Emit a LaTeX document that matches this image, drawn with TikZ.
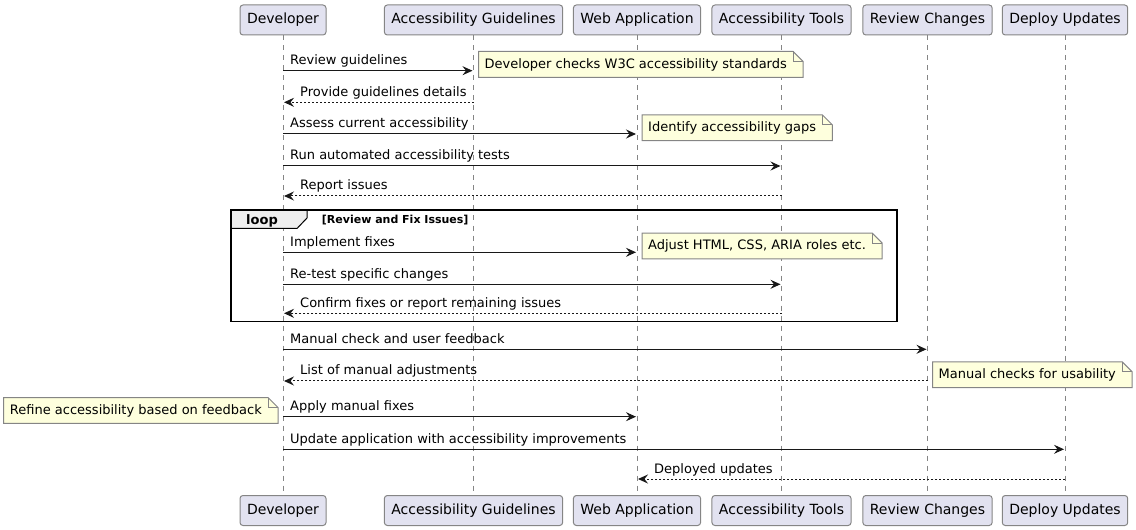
\documentclass[tikz,border=0pt]{standalone}
\usepackage{fontspec}
\setmainfont{DejaVu Sans}
\usetikzlibrary{arrows.meta,calc}
\pgfdeclarelayer{back}
\pgfdeclarelayer{mid}
\pgfsetlayers{back,mid,main}
\definecolor{partfill}{HTML}{E2E2F0}
\definecolor{ink}{HTML}{181818}
\definecolor{edge}{HTML}{858585}
\definecolor{notefill}{HTML}{FEFFDD}
\definecolor{tabfill}{HTML}{EEEEEE}

\newcommand\fwdmsg[5]{%
  \draw[msg] (#1 |- 0,#3) -- ([xshift=-1bp]#2 |- 0,#3);
  \node[lbl] (#4) at ($(#1 |- 0,#3)+(7,-6)$) {#5};}
\newcommand\bwdmsg[5]{%
  \draw[ret] (#1 |- 0,#3) -- ([xshift=1bp]#2 |- 0,#3);
  \node[lbl] (#4) at ($(#2 |- 0,#3)+(17,-6)$) {#5};}
\newcommand\notebody[1]{%
  \begin{pgfonlayer}{mid}
  \draw[noteshape] ([xshift=-6bp]#1.north west) -- ([xshift=6bp]#1.north east)
     -- ([xshift=16bp,yshift=-10bp]#1.north east) -- ([xshift=16bp]#1.south east)
     -- ([xshift=-6bp]#1.south west) -- cycle;
  \draw[noteshape,fill=none] ([xshift=6bp]#1.north east) -- ([xshift=6bp,yshift=-10bp]#1.north east)
     -- ([xshift=16bp,yshift=-10bp]#1.north east);
  \end{pgfonlayer}}
\newcommand\noteright[4]{%
  \node[notetext,anchor=west] (#1) at ($(#2 |- 0,#3)+(11,-6.25)$) {#4};
  \notebody{#1}}
\newcommand\noteleft[4]{%
  \node[notetext,anchor=east] (#1) at ($(#2 |- 0,#3)+(-21,-6.25)$) {#4};
  \notebody{#1}}

\begin{document}
\begin{tikzpicture}[x=1bp,y=-1bp,
  part/.style={draw=edge, line width=1bp, fill=partfill, rounded corners=3bp,
    minimum height=30bp, inner xsep=7bp, inner ysep=0pt,
    font=\fontsize{14bp}{16bp}\selectfont, text=black},
  life/.style={draw=edge, line width=1bp, dash pattern=on 5bp off 5bp},
  msg/.style={draw=ink, line width=1bp, -{Stealth[length=10bp,width=9bp,inset=3.5bp]}},
  ret/.style={msg, dash pattern=on 2bp off 2bp},
  lbl/.style={font=\fontsize{13bp}{15bp}\selectfont, inner sep=0pt, anchor=base west, text=black},
  notetext/.style={font=\fontsize{13bp}{15bp}\selectfont, inner xsep=0pt, inner ysep=0pt,
    minimum height=25.5bp, text=black},
  noteshape/.style={draw=edge, line width=1bp, fill=notefill},
]
\useasboundingbox (0,0) rectangle (1136,530);

% participants (top)
\node[part] (devT)    at (283,20)   {Developer};
\node[part] (guideT)  at (473.5,20) {Accessibility Guidelines};
\node[part] (webT)    at (637,20)   {Web Application};
\node[part] (toolsT)  at (781.5,20) {Accessibility Tools};
\node[part] (revT)    at (927.5,20) {Review Changes};
\node[part] (depT)    at (1065,20)  {Deploy Updates};
% participants (bottom)
\node[part] (devB)    at (283,510.5)   {Developer};
\node[part] (guideB)  at (473.5,510.5) {Accessibility Guidelines};
\node[part] (webB)    at (637,510.5)   {Web Application};
\node[part] (toolsB)  at (781.5,510.5) {Accessibility Tools};
\node[part] (revB)    at (927.5,510.5) {Review Changes};
\node[part] (depB)    at (1065,510.5)  {Deploy Updates};

% lifelines
\begin{pgfonlayer}{back}
\draw[life] (devT.south) -- (devB.north);
\draw[life] (guideT.south) -- (guideB.north);
\draw[life] (webT.south) -- (webB.north);
\draw[life] (toolsT.south) -- (toolsB.north);
\draw[life] (revT.south) -- (revB.north);
\draw[life] (depT.south) -- (depB.north);
\end{pgfonlayer}

% loop frame
\draw[line width=1bp, draw=black, fill=tabfill] (231,210) -- (307,210) -- (307,218) -- (297,228.5) -- (231,228.5) -- cycle;
\draw[line width=1.5bp, draw=black] (231,210) rectangle (897,321.5);
\node[font=\fontsize{13bp}{15bp}\selectfont\bfseries, inner sep=0pt, anchor=base west] (looplbl) at (246,224.3) {loop};
\node[font=\fontsize{11bp}{13bp}\selectfont\bfseries, inner sep=0pt, anchor=base west] (loopcond) at (321.7,223.3) {[Review and Fix Issues]};

% messages
\fwdmsg{devT}{guideT}{70.7}{m1}{Review guidelines}
\bwdmsg{guideT}{devT}{102.3}{m2}{Provide guidelines details}
\fwdmsg{devT}{webT}{134}{m3}{Assess current accessibility}
\fwdmsg{devT}{toolsT}{166}{m4}{Run automated accessibility tests}
\bwdmsg{toolsT}{devT}{196}{m5}{Report issues}
\fwdmsg{devT}{webT}{252.3}{m6}{Implement fixes}
\fwdmsg{devT}{toolsT}{284.3}{m7}{Re-test specific changes}
\bwdmsg{toolsT}{devT}{313.3}{m8}{Confirm fixes or report remaining issues}
\fwdmsg{devT}{revT}{349.3}{m9}{Manual check and user feedback}
\bwdmsg{revT}{devT}{381}{m10}{List of manual adjustments}
\fwdmsg{devT}{webT}{416.7}{m11}{Apply manual fixes}
\fwdmsg{devT}{depT}{449.3}{m12}{Update application with accessibility improvements}
\bwdmsg{depT}{webT}{479}{m13}{Deployed updates}

% notes
\noteright{n1}{guideT}{70.7}{Developer checks W3C accessibility standards}
\noteright{n2}{webT}{134}{Identify accessibility gaps}
\noteright{n3}{webT}{252.3}{Adjust HTML, CSS, ARIA roles etc.}
\noteright{n4}{revT}{381}{Manual checks for usability}
\noteleft{n5}{devT}{416.7}{Refine accessibility based on feedback}
\end{tikzpicture}
\end{document}
